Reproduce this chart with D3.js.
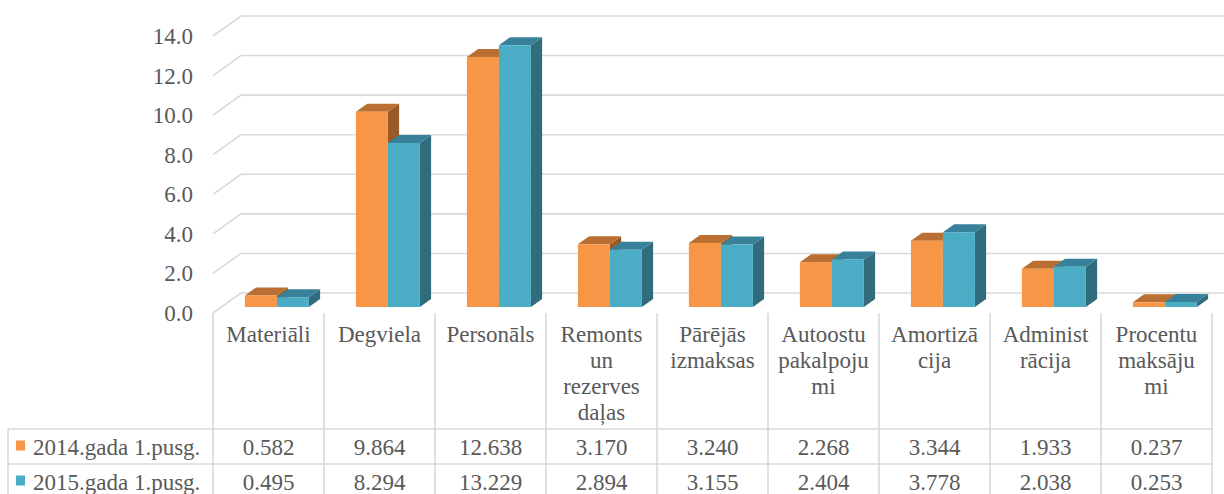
<!DOCTYPE html>
<html>
<head>
<meta charset="utf-8">
<script src="https://cdn.jsdelivr.net/npm/d3@7"></script>
<style>
  body { margin: 0; background: #fff; }
</style>
</head>
<body>
<script>
// data
const categories = ["Materiāli", "Degviela", "Personāls", "Remonts un rezerves daļas", "Pārējās izmaksas",
  "Autoostu pakalpojumi", "Amortizācija", "Administrācija", "Procentu maksājumi"]
const categoryLines = [["Materiāli"], ["Degviela"], ["Personāls"], ["Remonts", "un", "rezerves", "daļas"],
  ["Pārējās", "izmaksas"], ["Autoostu", "pakalpoju", "mi"], ["Amortizā", "cija"], ["Administ", "rācija"],
  ["Procentu", "maksāju", "mi"]]
const series = ["2014.gada 1.pusg.", "2015.gada 1.pusg."]
const values2014 = [0.582, 9.864, 12.638, 3.170, 3.240, 2.268, 3.344, 1.933, 0.237]
const values2015 = [0.495, 8.294, 13.229, 2.894, 3.155, 2.404, 3.778, 2.038, 0.253]
const yTicks = [0, 2, 4, 6, 8, 10, 12, 14]

const colors = [
  { front: "#f79646", top: "#b96f31", side: "#9a5a27" },
  { front: "#4bacc6", top: "#37829a", side: "#316c7c" }
]

const W = 1224, H = 494
const left = 213, right = 1212
const floorY = 313         // front edge of floor
const depthX = 28, depthY = 20
const barD0 = 0.3, barD1 = 0.7
const FONT = "Liberation Serif"
const textColor = "#595959"

const svg = d3.select("body").append("svg")
  .attr("width", W).attr("height", H)
  .attr("font-family", FONT)

const x = d3.scaleBand().domain(categories).range([left, right]).padding(0)
const x1 = d3.scaleBand().domain(series).range([23.5, 87.5])
const y = d3.scaleLinear().domain([0, 14]).range([0, 277])

// projection: value v at depth d
const py = (v, d) => floorY - depthY * d - y(v)
const px = (xx, d) => xx + depthX * d

// gridlines: left wall diagonal + back wall
const grid = svg.append("g")
yTicks.forEach(t => {
  grid.append("path")
    .attr("d", `M${left},${py(t, 0)} L${px(left, 1)},${py(t, 1)} L${px(right, 1)},${py(t, 1)}`)
    .attr("fill", "none").attr("stroke", "#d9d9d9").attr("stroke-width", 1.6)
})

// y tick labels
svg.append("g").selectAll("text").data(yTicks).enter().append("text")
  .attr("x", 193).attr("y", d => py(d, 0) + 8)
  .attr("text-anchor", "end")
  .attr("font-family", FONT).attr("font-size", 23).attr("fill", textColor)
  .text(d => d.toFixed(1))

// bars
const allValues = [values2014, values2015]
const bars = svg.append("g")
categories.forEach((c, i) => {
  series.forEach((s, j) => {
    const v = allValues[j][i]
    const w = x1.bandwidth()
    const xf = px(x(c) + x1(s), barD0)
    const xb = px(x(c) + x1(s), barD1)
    const off = xb - xf
    const yb = py(0, barD0)
    const yt = py(v, barD0)
    const rise = py(0, barD0) - py(0, barD1)
    const col = colors[j]
    // side
    bars.append("path")
      .attr("d", `M${xf + w},${yt} L${xf + w + off},${yt - rise} L${xf + w + off},${yb - rise} L${xf + w},${yb} Z`)
      .attr("fill", col.side)
    // top
    bars.append("path")
      .attr("d", `M${xf},${yt} L${xf + w},${yt} L${xf + w + off},${yt - rise} L${xf + off},${yt - rise} Z`)
      .attr("fill", col.top)
    // front
    bars.append("rect")
      .attr("x", xf).attr("y", yt)
      .attr("width", w).attr("height", yb - yt)
      .attr("fill", col.front)
  })
})

// data table
const table = svg.append("g")
const row1 = 429, row2 = 464, tableBottom = 500
const lineColor = "#d9d9d9"
x.domain().concat([null]).forEach(c => {
  const xx = c === null ? right : x(c)
  table.append("line")
    .attr("x1", xx).attr("x2", xx).attr("y1", floorY).attr("y2", tableBottom)
    .attr("stroke", lineColor).attr("stroke-width", 1.6)
})
;[row1, row2].forEach(r => {
  table.append("line")
    .attr("x1", 8).attr("x2", right).attr("y1", r).attr("y2", r)
    .attr("stroke", lineColor).attr("stroke-width", 1.6)
})
table.append("line")
  .attr("x1", 8).attr("x2", 8).attr("y1", row1).attr("y2", tableBottom)
  .attr("stroke", lineColor).attr("stroke-width", 1.6)

// category labels
categories.forEach((c, i) => {
  const t = table.append("text")
    .attr("text-anchor", "middle")
    .attr("font-family", FONT).attr("font-size", 23).attr("fill", textColor)
  categoryLines[i].forEach((ln, k) => {
    t.append("tspan")
      .attr("x", x(c) + x.bandwidth() / 2)
      .attr("y", 342 + k * 26)
      .text(ln)
  })
})

// legend + values
const rowsY = [row1, row2]
series.forEach((s, j) => {
  const cy = rowsY[j] + 17.5
  table.append("rect")
    .attr("x", 16).attr("y", cy - 6).attr("width", 9).attr("height", 10)
    .attr("fill", colors[j].front)
  table.append("text")
    .attr("x", 33).attr("y", cy + 8)
    .attr("font-family", FONT).attr("font-size", 23).attr("fill", textColor)
    .text(s)
  categories.forEach((c, i) => {
    table.append("text")
      .attr("x", x(c) + x.bandwidth() / 2).attr("y", cy + 8)
      .attr("text-anchor", "middle")
      .attr("font-family", FONT).attr("font-size", 23).attr("fill", textColor)
      .text(allValues[j][i].toFixed(3))
  })
})
</script>
</body>
</html>
